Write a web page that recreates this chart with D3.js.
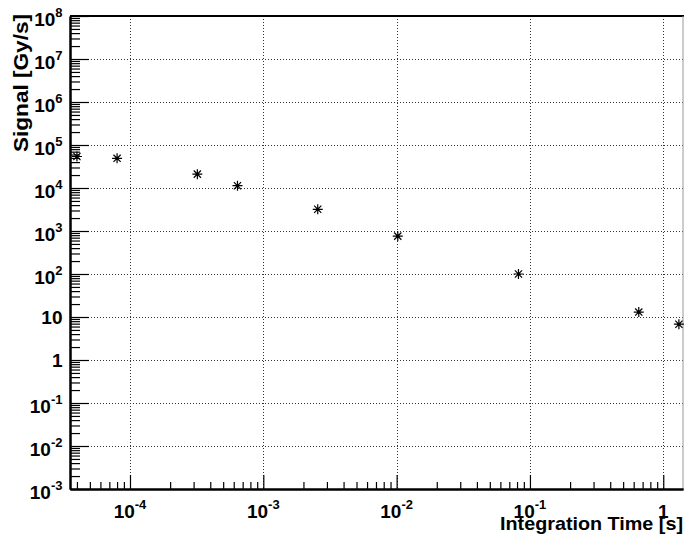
<!DOCTYPE html>
<html>
<head>
<meta charset="utf-8">
<script src="https://cdn.jsdelivr.net/npm/d3@7"></script>
<style>
  html, body { margin: 0; padding: 0; background: #fff; }
  svg { display: block; }
  text { font-family: "Liberation Sans", Arial, Helvetica, sans-serif; font-weight: bold; fill: #000; }
</style>
</head>
<body>
<svg id="chart" width="684" height="540"></svg>
<script>
// Integration time [s] and measured signal [Gy/s]
const integrationTime = [4e-5, 8e-5, 3.2e-4, 6.4e-4, 2.56e-3, 1.02e-2, 8.2e-2, 0.655, 1.31];
const signal = [5.4e4, 4.9e4, 2.1e4, 1.13e4, 3.2e3, 7.6e2, 1.0e2, 13, 6.8];

// Major tick exponents
const xMajorExp = [-4, -3, -2, -1, 0];
const yMajorExp = [-3, -2, -1, 0, 1, 2, 3, 4, 5, 6, 7, 8];

const xTitle = "Integration Time [s]";
const yTitle = "Signal [Gy/s]";

const frame = { left: 70, right: 683, top: 16, bottom: 489 };
const xDomain = [Math.pow(10, -4.45), Math.pow(10, 0.148)];
const yDomain = [1e-3, 1e8];

const svg = d3.select("#chart");

const x = d3.scaleLog().domain(xDomain).range([frame.left, frame.right]);
const y = d3.scaleLog().domain(yDomain).range([frame.bottom, frame.top]);

// minor ticks 2..9 per decade
function minors(lo, hi, domain) {
  const out = [];
  for (let e = lo; e <= hi; e++) {
    for (let k = 2; k <= 9; k++) {
      const v = k * Math.pow(10, e);
      if (v > domain[0] && v < domain[1]) out.push(v);
    }
  }
  return out;
}
const xMajor = xMajorExp.map(e => Math.pow(10, e));
const yMajor = yMajorExp.map(e => Math.pow(10, e));
const xMinor = minors(-5, 0, xDomain);
const yMinor = minors(-3, 7, yDomain);

// dotted grid
const grid = svg.append("g").attr("stroke", "#333").attr("stroke-width", 1)
  .attr("stroke-dasharray", "1,2").attr("fill", "none");
grid.selectAll("line.gx").data(xMajor).join("line").attr("class", "gx")
  .attr("x1", d => Math.round(x(d)) + 0.5).attr("x2", d => Math.round(x(d)) + 0.5)
  .attr("y1", frame.top).attr("y2", frame.bottom);
grid.selectAll("line.gy").data(yMajor.filter(v => v > yDomain[0] && v < yDomain[1])).join("line").attr("class", "gy")
  .attr("y1", d => Math.round(y(d)) + 0.5).attr("y2", d => Math.round(y(d)) + 0.5)
  .attr("x1", frame.left).attr("x2", frame.right);

// frame top and right
svg.append("line").attr("x1", frame.left).attr("x2", frame.right + 1)
  .attr("y1", frame.top).attr("y2", frame.top).attr("stroke", "#000").attr("stroke-width", 2);
svg.append("line").attr("x1", frame.right).attr("x2", frame.right)
  .attr("y1", frame.top).attr("y2", frame.bottom).attr("stroke", "#999").attr("stroke-width", 1);

// axes (ticks only, labels drawn separately)
function styleAxis(g) {
  g.select(".domain").attr("stroke", "#000").attr("stroke-width", 2);
  g.selectAll(".tick line").attr("stroke", "#000").attr("stroke-width", 1.2);
  g.selectAll(".tick text").remove();
}
svg.append("g").attr("transform", `translate(0,${frame.bottom})`)
  .call(d3.axisTop(x).tickValues(xMinor).tickSize(7).tickSizeOuter(0).tickFormat(""))
  .call(styleAxis);
svg.append("g").attr("transform", `translate(0,${frame.bottom})`)
  .call(d3.axisTop(x).tickValues(xMajor).tickSize(14).tickSizeOuter(0).tickFormat(""))
  .call(styleAxis);
svg.append("g").attr("transform", `translate(${frame.left},0)`)
  .call(d3.axisRight(y).tickValues(yMinor).tickSize(10).tickSizeOuter(0).tickFormat(""))
  .call(styleAxis);
svg.append("g").attr("transform", `translate(${frame.left},0)`)
  .call(d3.axisRight(y).tickValues(yMajor).tickSize(19).tickSizeOuter(0).tickFormat(""))
  .call(styleAxis);

// tick labels: 1, 10 plain; others as 10 with superscript exponent
function labelParts(e) {
  if (e === 0) return { base: "1", sup: null };
  if (e === 1) return { base: "10", sup: null };
  return { base: "10", sup: String(e) };
}
yMajorExp.forEach(e => {
  const p = labelParts(e);
  const yy = y(Math.pow(10, e));
  const t = svg.append("text").attr("x", 62.5).attr("y", yy + (p.sup ? 9.7 : 7.3))
    .attr("text-anchor", "end").style("font-size", "19px");
  t.append("tspan").text(p.base);
  if (p.sup) t.append("tspan").attr("dy", -8.5).style("font-size", "13px").text(p.sup);
});
xMajorExp.forEach(e => {
  const p = labelParts(e);
  const xx = x(Math.pow(10, e));
  const t = svg.append("text").attr("x", xx).attr("y", 518)
    .attr("text-anchor", "middle").style("font-size", "19px");
  t.append("tspan").text(p.base);
  if (p.sup) t.append("tspan").attr("dy", -9.3).style("font-size", "13px").text(p.sup);
});

// axis titles
svg.append("text").attr("x", 683).attr("y", 530).attr("text-anchor", "end")
  .style("font-size", "19px").attr("textLength", 183).attr("lengthAdjust", "spacingAndGlyphs")
  .text(xTitle);
svg.append("text").attr("transform", "translate(28,14) rotate(-90)").attr("text-anchor", "end")
  .style("font-size", "19.5px").attr("textLength", 138).attr("lengthAdjust", "spacingAndGlyphs")
  .text(yTitle);

// asterisk marker (+ and x combined)
const asterisk = {
  draw(ctx, size) {
    const r = Math.sqrt(size) / 2;
    const d = r * 0.72;
    ctx.moveTo(-r, 0); ctx.lineTo(r, 0);
    ctx.moveTo(0, -r); ctx.lineTo(0, r);
    ctx.moveTo(-d, -d); ctx.lineTo(d, d);
    ctx.moveTo(-d, d); ctx.lineTo(d, -d);
  }
};
const points = integrationTime.map((t, i) => ({ t, s: signal[i] }));
const marks = svg.append("g");
marks.selectAll("path").data(points).join("path")
  .attr("transform", d => `translate(${x(d.t)},${y(d.s)})`)
  .attr("d", d3.symbol().type(asterisk).size(100))
  .attr("fill", "none").attr("stroke", "#000").attr("stroke-width", 1.2);
marks.selectAll("circle").data(points).join("circle")
  .attr("cx", d => x(d.t)).attr("cy", d => y(d.s)).attr("r", 1.5).attr("fill", "#000");
</script>
</body>
</html>
